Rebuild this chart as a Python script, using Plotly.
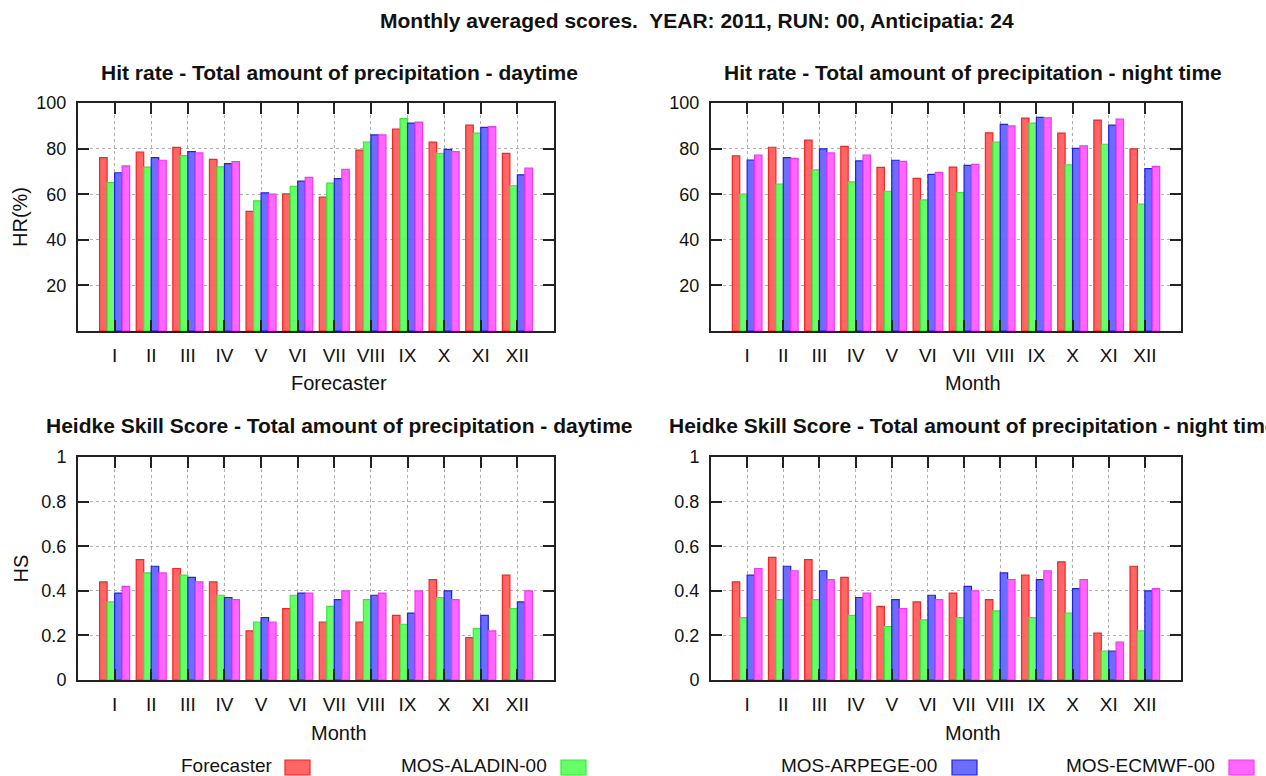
import plotly.graph_objects as go

months = ["I", "II", "III", "IV", "V", "VI", "VII", "VIII", "IX", "X", "XI", "XII"]
series_names = ["Forecaster", "MOS-ALADIN-00", "MOS-ARPEGE-00", "MOS-ECMWF-00"]

# Hit rate, daytime (%)
hr_day_forecaster = [76, 78.5, 80.5, 75.3, 52.5, 60.1, 58.7, 79.3, 88.5, 82.8, 90.3, 77.9]
hr_day_aladin = [65.1, 71.9, 76.9, 72.0, 57.1, 63.4, 64.9, 82.8, 93.2, 77.9, 86.8, 63.7]
hr_day_arpege = [69.4, 76.0, 78.7, 73.4, 60.6, 65.7, 66.8, 86.0, 91.2, 79.7, 89.3, 68.5]
hr_day_ecmwf = [72.4, 74.9, 78.1, 74.3, 60.0, 67.4, 70.9, 86.0, 91.6, 78.7, 89.6, 71.5]

# Hit rate, night time (%)
hr_night_forecaster = [76.8, 80.6, 83.7, 81.0, 71.8, 66.9, 71.9, 86.9, 93.4, 86.8, 92.5, 79.9]
hr_night_aladin = [60.0, 64.4, 70.7, 65.4, 61.3, 57.5, 60.7, 82.8, 91.2, 72.9, 81.9, 55.7]
hr_night_arpege = [75.0, 76.0, 79.9, 74.6, 74.9, 68.7, 72.6, 90.6, 93.7, 80.1, 90.3, 71.2]
hr_night_ecmwf = [77.2, 75.7, 78.1, 77.2, 74.4, 69.6, 73.1, 90.0, 93.5, 81.2, 92.9, 72.2]

# Heidke skill score, daytime
hs_day_forecaster = [0.44, 0.54, 0.50, 0.44, 0.22, 0.32, 0.26, 0.26, 0.29, 0.45, 0.19, 0.47]
hs_day_aladin = [0.35, 0.48, 0.47, 0.38, 0.26, 0.38, 0.33, 0.36, 0.25, 0.37, 0.23, 0.32]
hs_day_arpege = [0.39, 0.51, 0.46, 0.37, 0.28, 0.39, 0.36, 0.38, 0.30, 0.40, 0.29, 0.35]
hs_day_ecmwf = [0.42, 0.48, 0.44, 0.36, 0.26, 0.39, 0.40, 0.39, 0.40, 0.36, 0.22, 0.40]

# Heidke skill score, night time
hs_night_forecaster = [0.44, 0.55, 0.54, 0.46, 0.33, 0.35, 0.39, 0.36, 0.47, 0.53, 0.21, 0.51]
hs_night_aladin = [0.28, 0.36, 0.36, 0.29, 0.24, 0.27, 0.28, 0.31, 0.28, 0.30, 0.13, 0.22]
hs_night_arpege = [0.47, 0.51, 0.49, 0.37, 0.36, 0.38, 0.42, 0.48, 0.45, 0.41, 0.13, 0.40]
hs_night_ecmwf = [0.50, 0.49, 0.45, 0.39, 0.32, 0.36, 0.40, 0.45, 0.49, 0.45, 0.17, 0.41]

hr_ticks = [20, 40, 60, 80, 100]
hs_ticks = [0, 0.2, 0.4, 0.6, 0.8, 1]
hs_ticktext = ["0", "0.2", "0.4", "0.6", "0.8", "1"]

main_title = "Monthly averaged scores.  YEAR: 2011, RUN: 00, Anticipatia: 24"
panel_titles = [
    "Hit rate - Total amount of precipitation - daytime",
    "Hit rate - Total amount of precipitation - night time",
    "Heidke Skill Score - Total amount of precipitation - daytime",
    "Heidke Skill Score - Total amount of precipitation - night time",
]
x_titles = ["Forecaster", "Month", "Month", "Month"]
y_titles = ["HR(%)", "HS"]

fill_colors = ["rgba(255,90,90,0.92)", "rgba(90,255,90,0.92)", "rgba(95,95,255,0.92)", "rgba(255,90,255,0.92)"]
line_colors = ["#ff2020", "#30ee30", "#2020ee", "#ff30ff"]

FONT = "Liberation Sans"
W, H = 1266, 776

panels = [
    [hr_day_forecaster, hr_day_aladin, hr_day_arpege, hr_day_ecmwf],
    [hr_night_forecaster, hr_night_aladin, hr_night_arpege, hr_night_ecmwf],
    [hs_day_forecaster, hs_day_aladin, hs_day_arpege, hs_day_ecmwf],
    [hs_night_forecaster, hs_night_aladin, hs_night_arpege, hs_night_ecmwf],
]

# pixel geometry of the frames
xdoms_px = [(78, 554), (711, 1181)]
ydoms_px = [(103, 331), (457, 680)]
label_cx = [339, 973]

def xd(p):
    return [p[0] / W, p[1] / W]

def yd(p):
    return [1 - p[1] / H, 1 - p[0] / H]

fig = go.Figure()
for i, data in enumerate(panels):
    ax = "" if i == 0 else str(i + 1)
    for k, vals in enumerate(data):
        fig.add_trace(go.Bar(
            x=months, y=vals, name=series_names[k],
            xaxis="x" + ax, yaxis="y" + ax,
            marker=dict(color=fill_colors[k], line=dict(color=line_colors[k], width=1.2)),
            showlegend=False,
        ))

layout = dict(
    template="none",
    width=W, height=H, autosize=False,
    margin=dict(l=0, r=0, t=0, b=0, pad=0, autoexpand=False),
    paper_bgcolor="white", plot_bgcolor="white",
    barmode="group", bargap=0.18, bargroupgap=0.0,
    showlegend=False,
    font=dict(family=FONT, size=18, color="#111111"),
    annotations=[], shapes=[],
)

for i in range(4):
    ax = "" if i == 0 else str(i + 1)
    col = i % 2
    row = i // 2
    xa = dict(
        domain=xd(xdoms_px[col]), anchor="y" + ax, automargin=False,
        type="category", range=[-1, 12],
        showline=True, linecolor="#222222", linewidth=2, mirror="ticks",
        ticks="inside", ticklen=11, tickwidth=1.5, tickcolor="#222222",
        showgrid=True, gridcolor="#b0b0b0", griddash="dot", gridwidth=1,
        tickfont=dict(size=19, family=FONT, color="#111111"),
        ticklabelstandoff=6,
        zeroline=False, fixedrange=True,
    )
    if row == 0:
        ya = dict(range=[0, 100], tickvals=hr_ticks, ticktext=[str(t) for t in hr_ticks])
    else:
        ya = dict(range=[0, 1], tickvals=hs_ticks, ticktext=hs_ticktext)
    ya.update(
        domain=yd(ydoms_px[row]), anchor="x" + ax, automargin=False,
        showline=True, linecolor="#222222", linewidth=2, mirror="ticks",
        ticks="inside", ticklen=11, tickwidth=1.5, tickcolor="#222222",
        showgrid=True, gridcolor="#b0b0b0", griddash="dot", gridwidth=1,
        tickfont=dict(size=18, family=FONT, color="#111111"),
        ticklabelstandoff=6,
        zeroline=False, fixedrange=True,
    )
    layout["xaxis" + ax] = xa
    layout["yaxis" + ax] = ya

    # panel title
    ty = [72, 425][row]
    layout["annotations"].append(dict(
        text="<b>" + panel_titles[i] + "</b>", x=label_cx[col] / W, y=1 - ty / H,
        xref="paper", yref="paper", xanchor="center", yanchor="middle",
        showarrow=False, font=dict(size=21, family=FONT, color="#111111")))
    # x title
    xy = [383, 733][row]
    layout["annotations"].append(dict(
        text=x_titles[i], x=label_cx[col] / W, y=1 - xy / H, xref="paper", yref="paper",
        xanchor="center", yanchor="middle", showarrow=False,
        font=dict(size=20, family=FONT, color="#111111")))
    if col == 0:
        cy = (ydoms_px[row][0] + ydoms_px[row][1]) / 2
        layout["annotations"].append(dict(
            text=y_titles[row], x=20 / W, y=1 - cy / H, xref="paper", yref="paper",
            xanchor="center", yanchor="middle", showarrow=False, textangle=-90,
            font=dict(size=20, family=FONT, color="#111111")))

layout["annotations"].append(dict(
    text="<b>" + main_title + "</b>", x=697 / W, y=1 - 20 / H, xref="paper", yref="paper",
    xanchor="center", yanchor="middle", showarrow=False,
    font=dict(size=21, family=FONT, color="#111111")))

# legend (gnuplot style: text then sample box)
legend_text_right = [274, 549, 939, 1217]
legend_box_left = [285, 561, 952, 1229]
for k in range(4):
    layout["annotations"].append(dict(
        text=series_names[k], x=legend_text_right[k] / W, y=1 - 765 / H,
        xref="paper", yref="paper", xanchor="right", yanchor="middle", showarrow=False,
        font=dict(size=19, family=FONT, color="#111111")))
    layout["shapes"].append(dict(
        type="rect", xref="paper", yref="paper",
        x0=legend_box_left[k] / W, x1=(legend_box_left[k] + 25) / W,
        y0=1 - 775 / H, y1=1 - 760 / H,
        fillcolor=fill_colors[k], line=dict(color=line_colors[k], width=1.2)))

fig.update_layout(**layout)
fig.write_html("out.html")
